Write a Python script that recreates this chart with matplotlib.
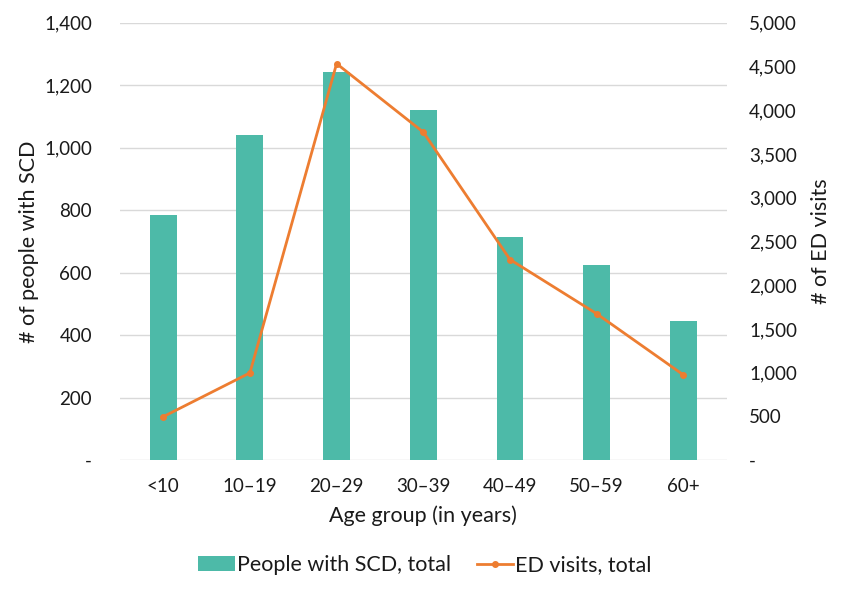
import matplotlib
matplotlib.use("Agg")
import matplotlib.pyplot as plt
import numpy as np
from matplotlib.ticker import FuncFormatter

plt.rcParams['font.family'] = ['Lato', 'DejaVu Sans']

# data
age_groups = ["<10", "10–19", "20–29", "30–39", "40–49", "50–59", "60+"]
people_scd = [784, 1041, 1244, 1122, 716, 624, 447]
ed_visits = [497, 998, 4533, 3750, 2294, 1674, 975]

teal = "#4DBAA8"
orange = "#ED7D31"
grid_col = "#D9D9D9"
text_col = "#1A1A1A"


def thousands(v, pos):
    if v == 0:
        return "-"
    return f"{int(v):,}"


fig = plt.figure(figsize=(8.5, 6), dpi=100)
ax = fig.add_axes([0.141, 0.233, 0.714, 0.729])
ax2 = ax.twinx()

x = np.arange(len(age_groups))
ax.bar(x, people_scd, width=0.31, color=teal, label="People with SCD, total", zorder=2)
ax2.plot(x, ed_visits, color=orange, lw=2, marker="o", markersize=4,
         label="ED visits, total", zorder=3)

ax.set_xlim(-0.5, len(age_groups) - 0.5)
ax.set_ylim(0, 1400)
ax.set_yticks(np.arange(0, 1401, 200))
ax2.set_ylim(0, 5000)
ax2.set_yticks(np.arange(0, 5001, 500))
ax.yaxis.set_major_formatter(FuncFormatter(thousands))
ax2.yaxis.set_major_formatter(FuncFormatter(thousands))

ax.set_xticks(x)
ax.set_xticklabels(age_groups)

ax.grid(axis="y", color=grid_col, lw=1, zorder=0)
ax.set_axisbelow(True)
for a in (ax, ax2):
    for s in a.spines.values():
        s.set_visible(False)
    a.tick_params(length=0, labelsize=13.5, colors=text_col)
ax.tick_params(axis="x", pad=13)
ax.tick_params(axis="y", pad=20)
ax2.tick_params(axis="y", pad=16)

ax.set_xlabel("Age group (in years)", fontsize=15.5, labelpad=7, color=text_col)
ax.set_ylabel("# of people with SCD", fontsize=15.5, labelpad=4, color=text_col)
ax2.set_ylabel("# of ED visits", fontsize=15.5, labelpad=10, color=text_col)

h1, l1 = ax.get_legend_handles_labels()
h2, l2 = ax2.get_legend_handles_labels()
leg = fig.legend(h1 + h2, l1 + l2, loc="center", bbox_to_anchor=(0.5, 0.058), ncol=2,
                 frameon=False, fontsize=15.5, handlelength=1.7, handletextpad=0.1,
                 columnspacing=1.2)
for t in leg.get_texts():
    t.set_color(text_col)

fig.savefig("out.png", dpi=100)
